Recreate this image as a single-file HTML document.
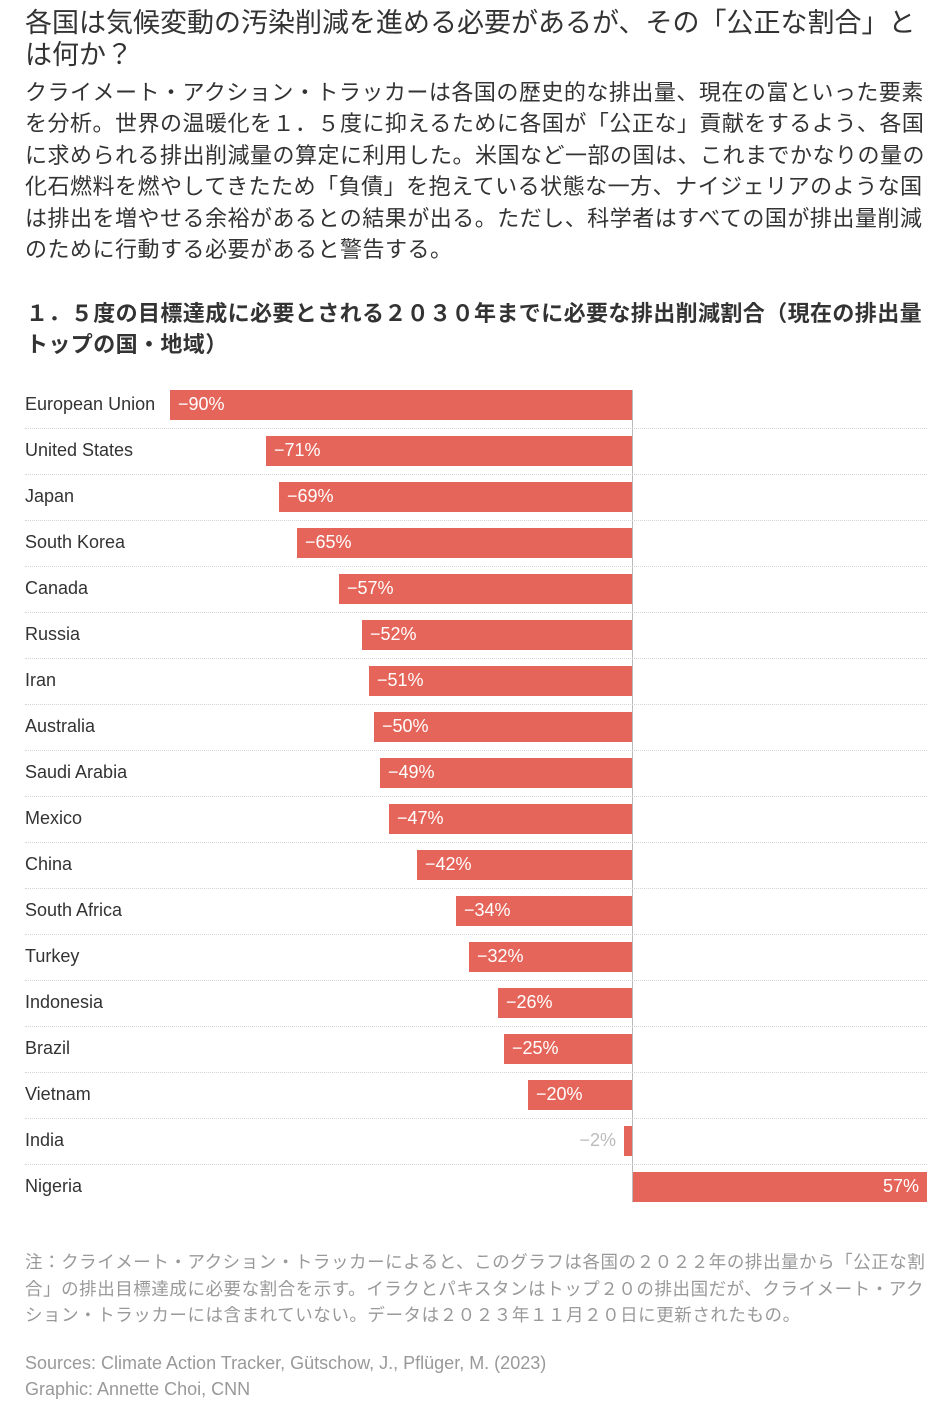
<!DOCTYPE html>
<html><head><meta charset="utf-8"><style>
body{margin:0;width:952px;height:1411px;background:#fff;position:relative;overflow:hidden;font-family:"Liberation Sans","Noto Sans CJK JP",sans-serif;color:#333}
.a{position:absolute;white-space:nowrap}
.t{left:25px;font-size:27px;color:#333}
.b{left:25px;font-size:22px;letter-spacing:0.5px;color:#333}
.s{left:26px;font-size:22px;font-weight:bold;letter-spacing:0.4px;color:#333}
.n{left:25px;font-size:17.5px;letter-spacing:0.55px;color:#999}
.src{left:25px;font-size:18px;color:#999}
.lab{left:25px;font-size:18px;color:#333;line-height:30px}
.bar{position:absolute;height:30px;background:#e5655a}
.v{position:absolute;font-size:18px;color:#fff;line-height:30px}
.dl{position:absolute;left:25px;width:902px;border-top:1px dotted #d4d4d4;height:0}
</style></head><body>
<div class="a t" style="top:1px">各国は気候変動の汚染削減を進める必要があるが、その「公正な割合」と</div>
<div class="a t" style="top:33px">は何か？</div>
<div class="a b" style="top:75px">クライメート・アクション・トラッカーは各国の歴史的な排出量、現在の富といった要素</div>
<div class="a b" style="top:106px">を分析。世界の温暖化を１．５度に抑えるために各国が「公正な」貢献をするよう、各国</div>
<div class="a b" style="top:138px">に求められる排出削減量の算定に利用した。米国など一部の国は、これまでかなりの量の</div>
<div class="a b" style="top:169px">化石燃料を燃やしてきたため「負債」を抱えている状態な一方、ナイジェリアのような国</div>
<div class="a b" style="top:201px">は排出を増やせる余裕があるとの結果が出る。ただし、科学者はすべての国が排出量削減</div>
<div class="a b" style="top:232px">のために行動する必要があると警告する。</div>
<div class="a s" style="top:296px">１．５度の目標達成に必要とされる２０３０年までに必要な排出削減割合（現在の排出量</div>
<div class="a s" style="top:327px">トップの国・地域）</div>

<div style="position:absolute;left:632px;top:390px;width:1px;height:812px;background:#bbb"></div>

<div class="a lab" style="top:389px">European Union</div><div class="bar" style="top:390px;left:170px;width:462px"></div><div class="v" style="top:389px;left:178px">−90%</div>
<div class="dl" style="top:428px"></div>
<div class="a lab" style="top:435px">United States</div><div class="bar" style="top:436px;left:266px;width:366px"></div><div class="v" style="top:435px;left:274px">−71%</div>
<div class="dl" style="top:474px"></div>
<div class="a lab" style="top:481px">Japan</div><div class="bar" style="top:482px;left:279px;width:353px"></div><div class="v" style="top:481px;left:287px">−69%</div>
<div class="dl" style="top:520px"></div>
<div class="a lab" style="top:527px">South Korea</div><div class="bar" style="top:528px;left:297px;width:335px"></div><div class="v" style="top:527px;left:305px">−65%</div>
<div class="dl" style="top:566px"></div>
<div class="a lab" style="top:573px">Canada</div><div class="bar" style="top:574px;left:339px;width:293px"></div><div class="v" style="top:573px;left:347px">−57%</div>
<div class="dl" style="top:612px"></div>
<div class="a lab" style="top:619px">Russia</div><div class="bar" style="top:620px;left:362px;width:270px"></div><div class="v" style="top:619px;left:370px">−52%</div>
<div class="dl" style="top:658px"></div>
<div class="a lab" style="top:665px">Iran</div><div class="bar" style="top:666px;left:369px;width:263px"></div><div class="v" style="top:665px;left:377px">−51%</div>
<div class="dl" style="top:704px"></div>
<div class="a lab" style="top:711px">Australia</div><div class="bar" style="top:712px;left:374px;width:258px"></div><div class="v" style="top:711px;left:382px">−50%</div>
<div class="dl" style="top:750px"></div>
<div class="a lab" style="top:757px">Saudi Arabia</div><div class="bar" style="top:758px;left:380px;width:252px"></div><div class="v" style="top:757px;left:388px">−49%</div>
<div class="dl" style="top:796px"></div>
<div class="a lab" style="top:803px">Mexico</div><div class="bar" style="top:804px;left:389px;width:243px"></div><div class="v" style="top:803px;left:397px">−47%</div>
<div class="dl" style="top:842px"></div>
<div class="a lab" style="top:849px">China</div><div class="bar" style="top:850px;left:417px;width:215px"></div><div class="v" style="top:849px;left:425px">−42%</div>
<div class="dl" style="top:888px"></div>
<div class="a lab" style="top:895px">South Africa</div><div class="bar" style="top:896px;left:456px;width:176px"></div><div class="v" style="top:895px;left:464px">−34%</div>
<div class="dl" style="top:934px"></div>
<div class="a lab" style="top:941px">Turkey</div><div class="bar" style="top:942px;left:469px;width:163px"></div><div class="v" style="top:941px;left:477px">−32%</div>
<div class="dl" style="top:980px"></div>
<div class="a lab" style="top:987px">Indonesia</div><div class="bar" style="top:988px;left:498px;width:134px"></div><div class="v" style="top:987px;left:506px">−26%</div>
<div class="dl" style="top:1026px"></div>
<div class="a lab" style="top:1033px">Brazil</div><div class="bar" style="top:1034px;left:504px;width:128px"></div><div class="v" style="top:1033px;left:512px">−25%</div>
<div class="dl" style="top:1072px"></div>
<div class="a lab" style="top:1079px">Vietnam</div><div class="bar" style="top:1080px;left:528px;width:104px"></div><div class="v" style="top:1079px;left:536px">−20%</div>
<div class="dl" style="top:1118px"></div>
<div class="a lab" style="top:1125px">India</div><div class="bar" style="top:1126px;left:624px;width:8px"></div><div class="v" style="top:1125px;left:560px;width:56px;text-align:right;color:#bbb">−2%</div>
<div class="dl" style="top:1164px"></div>
<div class="a lab" style="top:1171px">Nigeria</div><div class="bar" style="top:1172px;left:633px;width:294px"></div><div class="v" style="top:1171px;left:840px;width:79px;text-align:right">57%</div>

<div class="a n" style="top:1249px">注：クライメート・アクション・トラッカーによると、このグラフは各国の２０２２年の排出量から「公正な割</div>
<div class="a n" style="top:1276px">合」の排出目標達成に必要な割合を示す。イラクとパキスタンはトップ２０の排出国だが、クライメート・アク</div>
<div class="a n" style="top:1302px">ション・トラッカーには含まれていない。データは２０２３年１１月２０日に更新されたもの。</div>
<div class="a src" style="top:1353px">Sources: Climate Action Tracker, Gütschow, J., Pflüger, M. (2023)</div>
<div class="a src" style="top:1379px">Graphic: Annette Choi, CNN</div>
</body></html>
